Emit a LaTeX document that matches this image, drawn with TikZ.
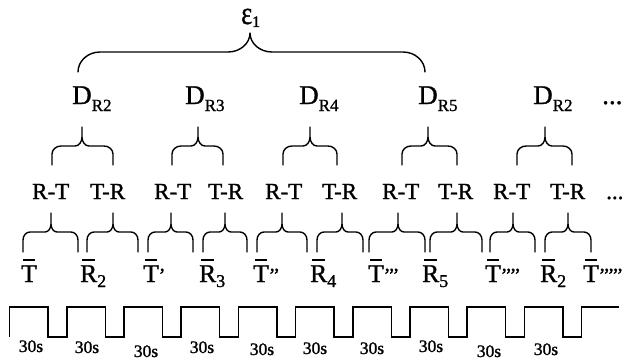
\documentclass[tikz,border=0pt]{standalone}
\usepackage{fontspec}
\setmainfont{Liberation Serif}[RawFeature={embolden=1.2}]
\newcommand\fsz[1]{\fontsize{#1}{#1}\selectfont}
% letter with a short bar over it
\newcommand\barred[1]{\setbox0=\hbox{#1}\rlap{\kern0.12\wd0\raisebox{\dimexpr\ht0+4.5pt\relax}{\rule{0.76\wd0}{2.2pt}}}\box0}
% narrow prime mark
\newcommand\prm{{\fsz{20}’}\kern-2.2pt}
% horizontal brace: #1 left, #2 tip, #3 right, #4 end y, #5 bar y, #6 tip y
% corner sizes come from \brA (horizontal), \brB (vertical), tip sizes from \brC, \brD
\newcommand\hbrace[6]{%
  \draw[bracepath] (#1,#4) -- (#1,{#5+\brB})
    .. controls (#1,{#5+0.448*\brB}) and ({#1+0.448*\brA},#5) .. ({#1+\brA},#5)
    -- ({#2-\brC},#5)
    .. controls ({#2-0.448*\brC},#5) and (#2,{#5-0.448*\brD}) .. (#2,{#5-\brD})
    -- (#2,#6) -- (#2,{#5-\brD})
    .. controls (#2,{#5-0.448*\brD}) and ({#2+0.448*\brC},#5) .. ({#2+\brC},#5)
    -- ({#3-\brA},#5)
    .. controls ({#3-0.448*\brA},#5) and (#3,{#5+0.448*\brB}) .. (#3,{#5+\brB})
    -- (#3,#4);}
\tikzset{
  toplab/.style={anchor=base west, inner sep=0pt, font=\fsz{26}},
  dlab/.style={anchor=base west, inner sep=0pt, font=\fsz{27}},
  pairlab/.style={anchor=base west, inner sep=0pt, font=\fsz{23}},
  leaflab/.style={anchor=base west, inner sep=0pt, font=\fsz{25.5}},
  timelab/.style={anchor=base, inner sep=0pt, font=\fsz{17.5}},
  bracepath/.style={line width=1.4pt, line join=round, line cap=round},
  wave/.style={line width=1.5pt, line join=miter}
}
\newcommand\sub[2]{\raisebox{-#1}{\fsz{17}#2}}
\begin{document}
\begin{tikzpicture}[x=1pt,y=-1pt]
\useasboundingbox (0,0) rectangle (623,361);

% top label
\node[toplab] (eps) at (241,24) {\scalebox{1}[1.25]{ε}\raisebox{-3pt}{\fsz{16}1}};

% outer brace
\def\brA{22}\def\brB{20}\def\brC{22}\def\brD{19}
\hbrace{78}{250}{425}{72}{52}{33}

% D labels
\node[dlab] (d1) at (72,104) {D\sub{7pt}{R2}};
\node[dlab] (d2) at (185,104) {D\sub{7pt}{R3}};
\node[dlab] (d3) at (299,104) {D\sub{7pt}{R4}};
\node[dlab] (d4) at (418,104) {D\sub{7pt}{R5}};
\node[dlab] (d5) at (533,104) {D\sub{7pt}{R2}};
\node[dlab] (ddots) at (602,104) {...};

% braces under the D labels
\def\brA{9}\def\brB{8}\def\brC{7}\def\brD{9}
\hbrace{52}{82}{113}{165}{146}{127}
\hbrace{172}{198}{223}{165}{146}{127}
\hbrace{283}{310}{337}{165}{146}{127}
\hbrace{402}{428}{457}{165}{146}{127}
\hbrace{517}{545}{572}{165}{146}{127}

% R-T / T-R row
\node[pairlab] (p1) at (32,199) {R-T};
\node[pairlab] (q1) at (90,199) {T-R};
\node[pairlab] (p2) at (154,199) {R-T};
\node[pairlab] (q2) at (208,199) {T-R};
\node[pairlab] (p3) at (265,199) {R-T};
\node[pairlab] (q3) at (322,199) {T-R};
\node[pairlab] (p4) at (382,199) {R-T};
\node[pairlab] (q4) at (438,199) {T-R};
\node[pairlab] (p5) at (493,199) {R-T};
\node[pairlab] (q5) at (550,199) {T-R};
\node[pairlab] (pdots) at (606,199) {...};

% braces under the R-T / T-R row
\def\brA{7}\def\brB{8}\def\brC{6}\def\brD{8}
\hbrace{23}{51}{78}{252}{232}{213}
\hbrace{87}{113}{138}{252}{232}{213}
\hbrace{148}{171}{193}{252}{232}{213}
\hbrace{203}{225}{247}{252}{232}{213}
\hbrace{257}{282}{307}{252}{232}{213}
\hbrace{317}{342}{363}{252}{232}{213}
\hbrace{369}{398}{425}{252}{232}{213}
\hbrace{430}{457}{482}{252}{232}{213}
\hbrace{490}{513}{535}{252}{232}{213}
\hbrace{545}{568}{591}{252}{232}{213}

% barred labels
\node[leaflab] (l1) at (21,282) {\barred{T}};
\node[leaflab] (l2) at (80,282) {\barred{R}\sub{5pt}{\fsz{18}2}};
\node[leaflab] (l3) at (143,282) {\barred{T}\prm};
\node[leaflab] (l4) at (199,282) {\barred{R}\sub{5pt}{\fsz{18}3}};
\node[leaflab] (l5) at (253,282) {\barred{T}\prm\prm};
\node[leaflab] (l6) at (310,282) {\barred{R}\sub{5pt}{\fsz{18}4}};
\node[leaflab] (l7) at (368,282) {\barred{T}\prm\prm\prm};
\node[leaflab] (l8) at (422,282) {\barred{R}\sub{5pt}{\fsz{18}5}};
\node[leaflab] (l9) at (485,282) {\barred{T}\prm\prm\prm\prm};
\node[leaflab] (l10) at (540,282) {\barred{R}\sub{5pt}{\fsz{18}2}};
\node[leaflab] (l11) at (583,282) {\barred{T}\prm\prm\prm\prm\prm};

% square wave
\draw[wave] (9.6,337) \foreach \k in {0,...,9} { -- ++(0,-30) -- ++(38.5,0) -- ++(0,30) -- ++(18.7,0) } -- ++(0,-30) -- (619,307);

% interval labels
\node[timelab] (t1) at (31,352) {30s};
\node[timelab] (t2) at (87,353) {30s};
\node[timelab] (t3) at (146,357) {30s};
\node[timelab] (t4) at (202,353) {30s};
\node[timelab] (t5) at (262,355) {30s};
\node[timelab] (t6) at (315,354) {30s};
\node[timelab] (t7) at (372,354) {30s};
\node[timelab] (t8) at (431,352) {30s};
\node[timelab] (t9) at (489,357) {30s};
\node[timelab] (t10) at (546,355) {30s};
\end{tikzpicture}
\end{document}
